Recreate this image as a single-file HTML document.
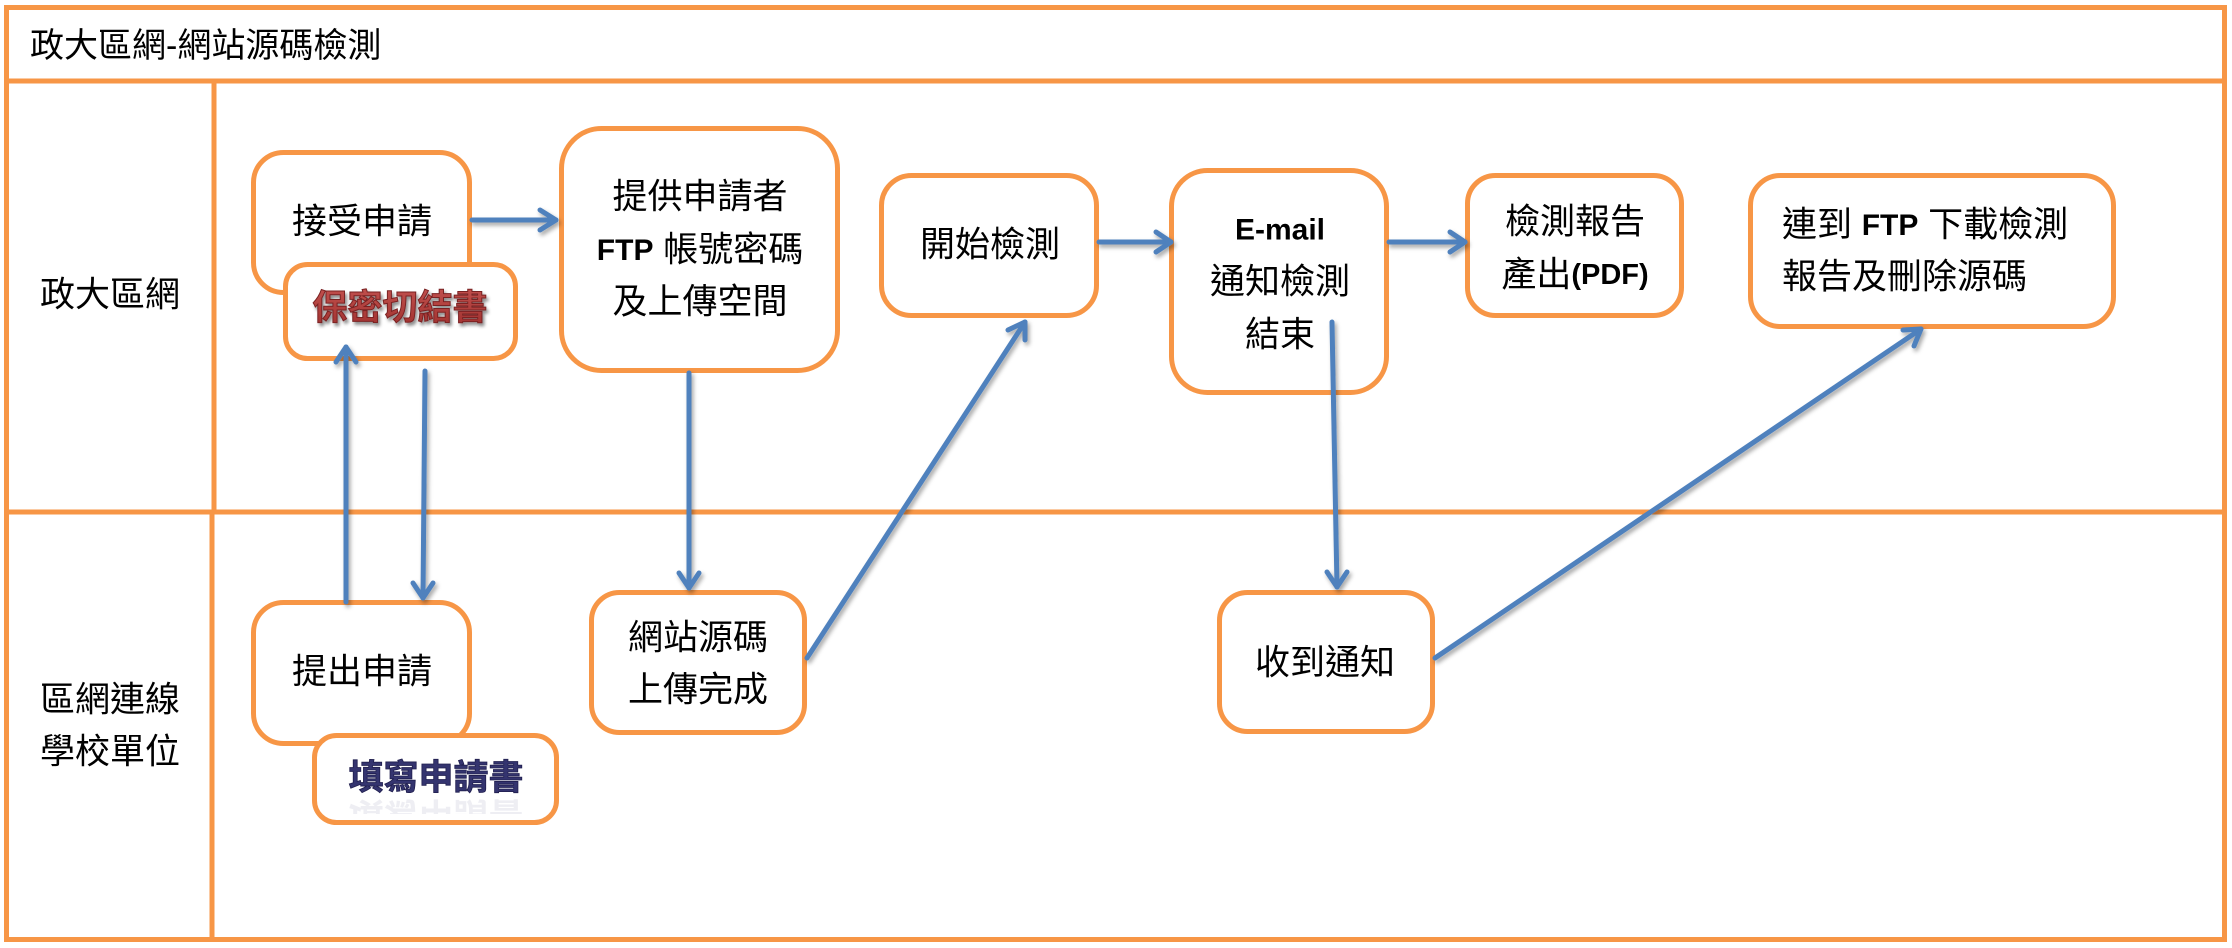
<!DOCTYPE html>
<html>
<head>
<meta charset="utf-8">
<style>
  html, body { margin: 0; padding: 0; background: #ffffff; }
  svg { display: block; }
  .t { font-family: "Liberation Sans", "Noto Sans CJK TC", sans-serif; font-size: 35px; fill: #000; }
  .lat { font-family: "Liberation Sans", sans-serif; font-weight: bold; font-size: 30px; }
</style>
</head>
<body>
<svg width="2232" height="948" viewBox="0 0 2232 948" xmlns="http://www.w3.org/2000/svg">
  <defs>
    <filter id="sh" x="-10%" y="-10%" width="130%" height="130%">
      <feDropShadow dx="2" dy="3" stdDeviation="2" flood-color="#000" flood-opacity="0.35"/>
    </filter>
    <filter id="tsh" x="-10%" y="-20%" width="130%" height="150%">
      <feDropShadow dx="2" dy="3" stdDeviation="1.5" flood-color="#000" flood-opacity="0.45"/>
    </filter>
    <linearGradient id="redg" x1="0" y1="0" x2="0" y2="1">
      <stop offset="0" stop-color="#c0504d"/>
      <stop offset="1" stop-color="#a0302e"/>
    </linearGradient>
    <clipPath id="refclip">
      <rect x="316" y="796" width="240" height="18"/>
    </clipPath>
  </defs>

  <rect x="0" y="0" width="2232" height="948" fill="#fff"/>

  <!-- swimlane frame -->
  <g stroke="#f79646" stroke-width="5" fill="none">
    <rect x="6.5" y="7.5" width="2218" height="932"/>
    <line x1="6" y1="81" x2="2226" y2="81"/>
    <line x1="6" y1="512" x2="2226" y2="512"/>
    <line x1="214" y1="81" x2="214" y2="512"/>
    <line x1="212" y1="512" x2="212" y2="940"/>
  </g>

  <!-- title & lane labels -->
  <text class="t" x="30" y="46" dominant-baseline="central" style="font-size:34px">政大區網-網站源碼檢測</text>
  <text class="t" x="110" y="295" text-anchor="middle" dominant-baseline="central">政大區網</text>
  <text class="t" x="110" y="700" text-anchor="middle" dominant-baseline="central">區網連線</text>
  <text class="t" x="110" y="752" text-anchor="middle" dominant-baseline="central">學校單位</text>

  <!-- boxes -->
  <g stroke="#f79646" stroke-width="5" fill="#fff">
    <rect x="253.5" y="152.5" width="216" height="140" rx="30"/>
    <rect x="285.5" y="264.5" width="230" height="94" rx="22"/>
    <rect x="561.5" y="128.5" width="276" height="242" rx="40"/>
    <rect x="881.5" y="175.5" width="215" height="140" rx="30"/>
    <rect x="1171.5" y="170.5" width="215" height="222" rx="36"/>
    <rect x="1467.5" y="175.5" width="214" height="140" rx="28"/>
    <rect x="1750.5" y="175.5" width="363" height="151" rx="30"/>
    <rect x="253.5" y="602.5" width="216" height="141" rx="30"/>
    <rect x="314.5" y="735.5" width="242" height="87" rx="22"/>
    <rect x="591.5" y="592.5" width="213" height="140" rx="28"/>
    <rect x="1219.5" y="592.5" width="213" height="139" rx="28"/>
  </g>

  <!-- box texts -->
  <text class="t" x="362" y="222" text-anchor="middle" dominant-baseline="central">接受申請</text>
  <text x="400" y="308" text-anchor="middle" dominant-baseline="central" filter="url(#tsh)"
        style="font-family:'Liberation Sans','Noto Sans CJK TC',sans-serif;font-weight:bold;font-size:35px"
        fill="url(#redg)" stroke="#7a2224" stroke-width="1">保密切結書</text>

  <text class="t" x="700" y="197" text-anchor="middle" dominant-baseline="central">提供申請者</text>
  <text class="t" x="700" y="250" text-anchor="middle" dominant-baseline="central"><tspan class="lat">FTP</tspan> 帳號密碼</text>
  <text class="t" x="700" y="302" text-anchor="middle" dominant-baseline="central">及上傳空間</text>

  <text class="t" x="990" y="245" text-anchor="middle" dominant-baseline="central">開始檢測</text>

  <text class="t lat" x="1280" y="230" text-anchor="middle" dominant-baseline="central">E-mail</text>
  <text class="t" x="1280" y="282" text-anchor="middle" dominant-baseline="central">通知檢測</text>
  <text class="t" x="1280" y="335" text-anchor="middle" dominant-baseline="central">結束</text>

  <text class="t" x="1575" y="222" text-anchor="middle" dominant-baseline="central">檢測報告</text>
  <text class="t" x="1575" y="275" text-anchor="middle" dominant-baseline="central">產出<tspan class="lat" style="font-size:29px">(PDF)</tspan></text>

  <text class="t" x="1782" y="225" dominant-baseline="central">連到 <tspan class="lat">FTP</tspan> 下載檢測</text>
  <text class="t" x="1782" y="277" dominant-baseline="central">報告及刪除源碼</text>

  <text class="t" x="362" y="672" text-anchor="middle" dominant-baseline="central">提出申請</text>

  <!-- faint reflection for 填寫申請書 -->
  <g clip-path="url(#refclip)">
    <text x="436" y="778" text-anchor="middle" dominant-baseline="central" transform="translate(0,1592) scale(1,-1)"
          style="font-family:'Liberation Sans','Noto Sans CJK TC',sans-serif;font-weight:bold;font-size:35px"
          fill="#3b3a78" opacity="0.08">填寫申請書</text>
  </g>
  <text x="436" y="778" text-anchor="middle" dominant-baseline="central"
        style="font-family:'Liberation Sans','Noto Sans CJK TC',sans-serif;font-weight:bold;font-size:35px"
        fill="#34346f" stroke="#1f1d4d" stroke-width="0.8">填寫申請書</text>

  <text class="t" x="698" y="638" text-anchor="middle" dominant-baseline="central">網站源碼</text>
  <text class="t" x="698" y="690" text-anchor="middle" dominant-baseline="central">上傳完成</text>

  <text class="t" x="1325" y="663" text-anchor="middle" dominant-baseline="central">收到通知</text>

  <!-- arrows -->
  <g stroke="#4f81bd" stroke-width="5" fill="none" stroke-linecap="round" stroke-linejoin="round" filter="url(#sh)">
    <line x1="472" y1="220" x2="556" y2="220"/>
    <polyline points="540,210 556,220 540,230"/>
    <line x1="346" y1="602" x2="346" y2="347"/>
    <polyline points="336,362 346,347 356,362"/>
    <line x1="425" y1="371" x2="423" y2="598"/>
    <polyline points="413,583 423,598 433,583"/>
    <line x1="689" y1="373" x2="689" y2="588"/>
    <polyline points="679,573 689,588 699,573"/>
    <line x1="807" y1="658" x2="1025" y2="322"/>
    <polyline points="1008,330 1025,322 1025,340"/>
    <line x1="1099" y1="242" x2="1171" y2="242"/>
    <polyline points="1156,232 1171,242 1156,252"/>
    <line x1="1389" y1="242" x2="1465" y2="242"/>
    <polyline points="1450,232 1465,242 1450,252"/>
    <line x1="1332" y1="322" x2="1337" y2="587"/>
    <polyline points="1327,572 1337,587 1347,572"/>
    <line x1="1435" y1="658" x2="1921" y2="329"/>
    <polyline points="1903,330 1921,329 1914,346"/>
  </g>
</svg>
</body>
</html>
